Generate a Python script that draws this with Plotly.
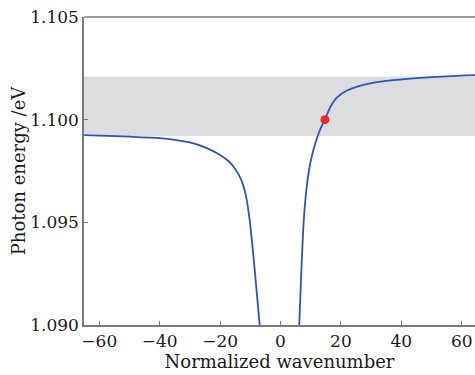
import plotly.graph_objects as go

# Left branch of dispersion curve
left_k = [-65, -60, -50, -40, -35, -30, -25, -20, -17, -15, -13, -11.6, -10.2, -6.9]
left_e = [1.09925, 1.09922, 1.09917, 1.09910, 1.09902, 1.09889, 1.09865, 1.09828, 1.09795, 1.09760, 1.09707, 1.09640, 1.09510, 1.09000]

# Right branch of dispersion curve
right_k = [6.2, 7.0, 7.7, 8.5, 9.4, 10.5, 11.9, 13.2, 14.7, 16.5, 18.8, 22, 25.4, 33.1, 44.1, 55, 65]
right_e = [1.09000, 1.09300, 1.09510, 1.09650, 1.09750, 1.09830, 1.09902, 1.09955, 1.10000, 1.10062, 1.10110, 1.10142, 1.10161, 1.10185, 1.10201, 1.10211, 1.10217]

# Highlighted point
point_k = [14.7]
point_e = [1.1000]

# Shaded band
band_low = 1.0992
band_high = 1.1021

x_ticks = [-60, -40, -20, 0, 20, 40, 60]
x_labels = ["\u221260", "\u221240", "\u221220", "0", "20", "40", "60"]
y_ticks = [1.090, 1.095, 1.100, 1.105]
y_labels = ["1.090", "1.095", "1.100", "1.105"]

line_color = "#2d54b6"
axis_color = "#7a7a7a"
font_family = "DejaVu Serif"

fig = go.Figure()
fig.add_trace(go.Scatter(x=left_k, y=left_e, mode="lines",
                         line=dict(color=line_color, width=1.8, shape="spline", smoothing=0.8),
                         showlegend=False))
fig.add_trace(go.Scatter(x=right_k, y=right_e, mode="lines",
                         line=dict(color=line_color, width=1.8, shape="spline", smoothing=0.8),
                         showlegend=False))
fig.add_trace(go.Scatter(x=point_k, y=point_e, mode="markers",
                         marker=dict(color="#ee2a2a", size=9),
                         showlegend=False))

fig.add_shape(type="rect", xref="paper", x0=0, x1=1, yref="y", y0=band_low, y1=band_high,
              fillcolor="#dcdddf", line=dict(width=0), layer="below")
fig.add_shape(type="line", xref="paper", x0=0, x1=1, yref="paper", y0=1, y1=1,
              line=dict(color=axis_color, width=1.5))

fig.update_layout(
    width=475, height=375,
    margin=dict(l=84, r=0, t=17, b=50),
    plot_bgcolor="white", paper_bgcolor="white",
    font=dict(family=font_family, size=17, color="#1a1a1a"),
    xaxis=dict(range=[-65.07, 64.4], tickvals=x_ticks, ticktext=x_labels, ticks="inside", ticklen=4,
               tickcolor=axis_color, showline=True, linecolor=axis_color, linewidth=1.5,
               showgrid=False, zeroline=False, automargin=False, ticklabeloverflow="allow",
               title=dict(text="Normalized wavenumber", font=dict(size=18), standoff=0)),
    yaxis=dict(range=[1.090, 1.105], tickvals=y_ticks, ticktext=y_labels, ticks="inside",
               ticklen=4, tickcolor=axis_color, showline=True, linecolor=axis_color,
               linewidth=1.5, showgrid=False, zeroline=False, automargin=False,
               ticklabeloverflow="allow",
               title=dict(text="Photon energy /eV", font=dict(size=18), standoff=0)),
)

fig.write_html("out.html", config={"displayModeBar": False},
               post_script="document.body.style.margin='0';document.body.style.overflow='hidden';")
